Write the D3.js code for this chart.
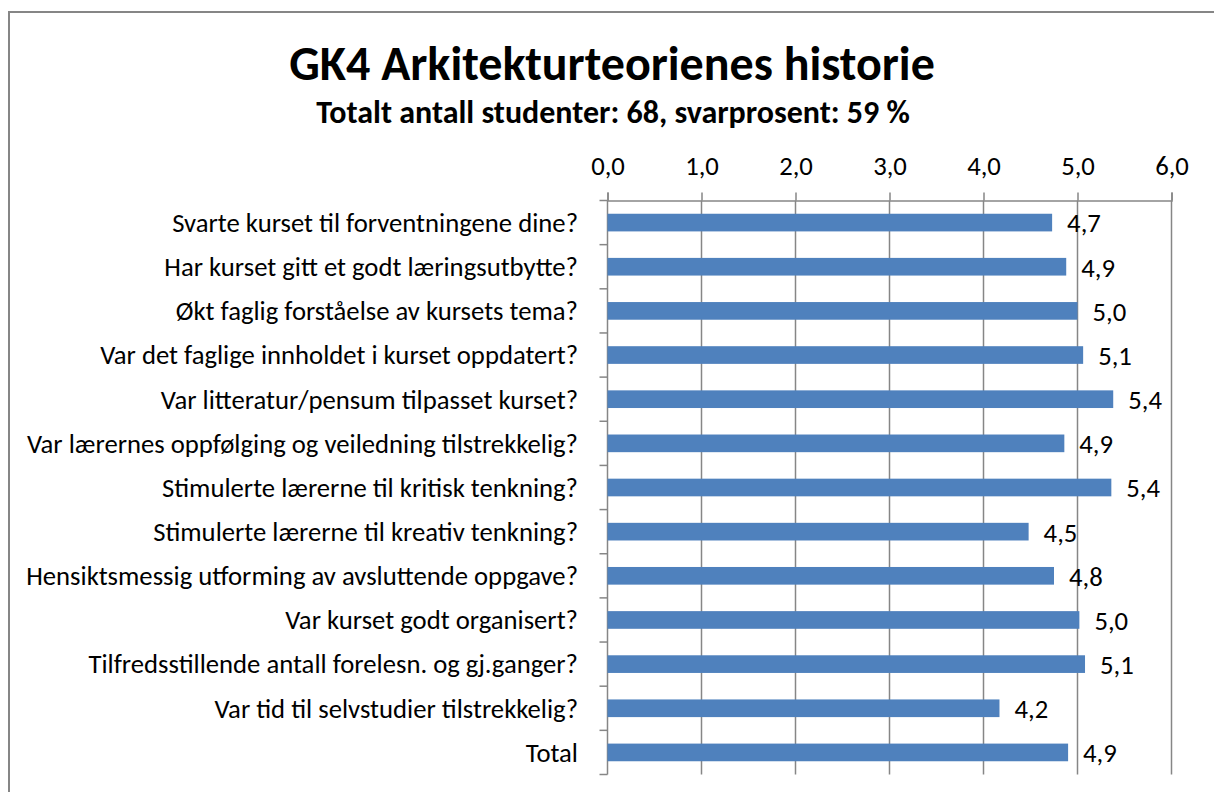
<meta charset="utf-8">
<script src="https://d3js.org/d3.v7.min.js"></script>

<style>
body {
margin:0;
background-color:white;
overflow:hidden;
}
svg {
display:block;
}
text {
font-family: Carlito, Lato, sans-serif;
fill:#000;
}
</style>

<body>
<div id="rootElement"></div>

<script type="text/javascript">

var categories = [
	"Svarte kurset til forventningene dine?",
	"Har kurset gitt et godt læringsutbytte?",
	"Økt faglig forståelse av kursets tema?",
	"Var det faglige innholdet i kurset oppdatert?",
	"Var litteratur/pensum tilpasset kurset?",
	"Var lærernes oppfølging og veiledning tilstrekkelig?",
	"Stimulerte lærerne til kritisk tenkning?",
	"Stimulerte lærerne til kreativ tenkning?",
	"Hensiktsmessig utforming av avsluttende oppgave?",
	"Var kurset godt organisert?",
	"Tilfredsstillende antall forelesn. og gj.ganger?",
	"Var tid til selvstudier tilstrekkelig?",
	"Total"
];
var values = [4.73, 4.88, 5.0, 5.06, 5.38, 4.86, 5.36, 4.48, 4.75, 5.02, 5.08, 4.17, 4.9];
var ticks = [0, 1, 2, 3, 4, 5, 6];

var title = "GK4 Arkitekturteorienes historie";
var subtitle = "Totalt antall studenter: 68, svarprosent: 59 %";

var width = 1214,
	height = 792,
	plotLeft = 607.5,
	plotRight = 1171.5,
	plotTop = 200.5,
	plotBottom = 774.5,
	fontSize = 26.7,
	gray = "#868686";

var comma = function(v) { return d3.format(".1f")(v).replace(".", ","); };

var svg = d3.select('#rootElement').append('svg')
	.attr("width", width)
	.attr("height", height);

// chart frame (only top and left edges are inside the picture)
svg.append("line")
	.attr("x1", 9).attr("x2", width)
	.attr("y1", 12).attr("y2", 12)
	.attr("stroke", gray).attr("stroke-width", 2);
svg.append("line")
	.attr("x1", 9).attr("x2", 9)
	.attr("y1", 11).attr("y2", height)
	.attr("stroke", gray).attr("stroke-width", 2);

svg.append("text")
	.attr("x", 612).attr("y", 80)
	.attr("text-anchor", "middle")
	.style("font-size", "48px")
	.style("font-weight", "bold")
	.text(title);

svg.append("text")
	.attr("x", 613).attr("y", 123)
	.attr("text-anchor", "middle")
	.style("font-size", "32px")
	.style("font-weight", "bold")
	.text(subtitle);

var x = d3.scaleLinear().domain([0, 6]).range([plotLeft, plotRight]);
var y = d3.scaleBand().domain(categories).range([plotTop, plotBottom])
	.paddingInner(0.6).paddingOuter(0.3);

// gridlines
svg.append("g").selectAll("line")
	.data(ticks.slice(1))
	.enter().append("line")
	.attr("x1", function(d) { return x(d); })
	.attr("x2", function(d) { return x(d); })
	.attr("y1", plotTop).attr("y2", plotBottom)
	.attr("stroke", gray).attr("stroke-width", 1.5);

// value axis on top
var xAxis = svg.append("g")
	.attr("transform", "translate(0," + plotTop + ")")
	.call(d3.axisTop(x).tickValues(ticks).tickFormat(comma).tickSize(8).tickPadding(18));
xAxis.select(".domain").attr("stroke", gray).attr("stroke-width", 1.5);
xAxis.selectAll(".tick line").attr("stroke", gray).attr("stroke-width", 1.5);
xAxis.selectAll("text").style("font-size", fontSize + "px").attr("fill", "#000")
	.style("font-family", "Carlito, Lato, sans-serif");

// category axis line and ticks at band edges
var step = y.step();
svg.append("line")
	.attr("x1", plotLeft).attr("x2", plotLeft)
	.attr("y1", plotTop).attr("y2", plotBottom)
	.attr("stroke", gray).attr("stroke-width", 1.5);
svg.append("g").selectAll("line")
	.data(d3.range(categories.length + 1))
	.enter().append("line")
	.attr("x1", plotLeft - 8).attr("x2", plotLeft)
	.attr("y1", function(i) { return plotTop + i * step; })
	.attr("y2", function(i) { return plotTop + i * step; })
	.attr("stroke", gray).attr("stroke-width", 1.5);

svg.append("g").selectAll("text")
	.data(categories)
	.enter().append("text")
	.attr("x", 578)
	.attr("y", function(d) { return y(d) + y.bandwidth() / 2 + fontSize * 0.35; })
	.attr("text-anchor", "end")
	.style("font-size", fontSize + "px")
	.text(function(d) { return d; });

// bars
svg.append("g").selectAll("rect")
	.data(values)
	.enter().append("rect")
	.attr("x", plotLeft)
	.attr("y", function(d, i) { return y(categories[i]); })
	.attr("width", function(d) { return x(d) - plotLeft; })
	.attr("height", y.bandwidth())
	.attr("fill", "#4f81bd");

svg.append("g").selectAll("text")
	.data(values)
	.enter().append("text")
	.attr("x", function(d) { return x(d) + 15; })
	.attr("y", function(d, i) { return y(categories[i]) + y.bandwidth() / 2 + fontSize * 0.37; })
	.style("font-size", fontSize + "px")
	.text(function(d) { return comma(d); });

</script>
</body>
